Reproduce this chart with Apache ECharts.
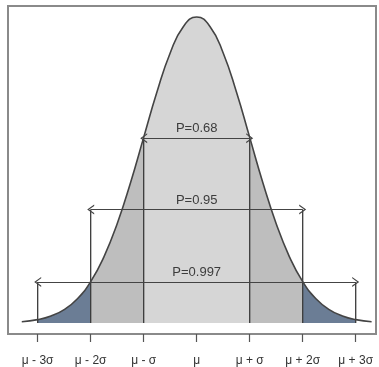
<!DOCTYPE html>
<html><head><meta charset="utf-8">
<script src="https://cdn.jsdelivr.net/npm/echarts@6/dist/echarts.min.js"></script>
<style>html,body{margin:0;padding:0;background:#fff}#c{width:379px;height:367px}</style>
</head><body><div id="c"></div>
<script>
// x position in units of sigma from the mean
const sigmaX = [-3.3,-3.0,-2.75,-2.5,-2.25,-2.0,-1.75,-1.5,-1.25,-1.0,-0.75,-0.5,-0.25,0,0.25,0.5,0.75,1.0,1.25,1.5,1.75,2.0,2.25,2.5,2.75,3.0,3.3];
// curve height
const density = [0.0017,0.0044,0.0091,0.0175,0.0317,0.0540,0.0863,0.1295,0.1826,0.2420,0.3011,0.3521,0.3867,0.3989,0.3867,0.3521,0.3011,0.2420,0.1826,0.1295,0.0863,0.0540,0.0317,0.0175,0.0091,0.0044,0.0017];
const tickValues = [-3,-2,-1,0,1,2,3];
const tickLabels = ['μ - 3σ','μ - 2σ','μ - σ','μ','μ + σ','μ + 2σ','μ + 3σ'];
const boundaryX = [-3,-2,-1,1,2,3];
const boundaryTop = [0.0535,0.148,0.241,0.241,0.148,0.0535];
const arrowLabels = ['P=0.68','P=0.95','P=0.997'];
const arrowHalf = [1,2,3];
const arrowLevel = [0.241,0.148,0.0535];

const curve = sigmaX.map((x,i)=>[x,density[i]]);
const chevron = 'path://M0,10 L5,0 L10,10 L8.6,10 L5,2.8 L1.4,10 Z';
const FONT = '"Liberation Sans", Arial, sans-serif';

const series = [];
series.push({
  type:'line', data:curve, smooth:true, showSymbol:false, silent:true,
  lineStyle:{width:0}, areaStyle:{opacity:1, origin:0}, z:1
});
boundaryX.forEach((x,i)=>{
  series.push({
    type:'line', data:[[x,0],[x,boundaryTop[i]]], showSymbol:false, silent:true,
    lineStyle:{color:'#3a3a3a', width:1.3}, z:2
  });
});
series.push({
  type:'line', data:curve, smooth:true, showSymbol:false, silent:true,
  lineStyle:{color:'#444', width:1.6}, z:3,
  markLine:{
    silent:true, animation:false,
    symbol:[chevron, chevron], symbolSize:[10,7],
    lineStyle:{color:'#444', width:1, type:'solid'},
    label:{show:true, position:'insideMiddleTop', formatter:'{b}', color:'#3c3c3c',
      fontSize:13, fontFamily:FONT, distance:3},
    data: arrowLabels.map((t,i)=>[
      {coord:[-arrowHalf[i], arrowLevel[i]], name:t},
      {coord:[arrowHalf[i], arrowLevel[i]]}
    ])
  }
});

const chart = echarts.init(document.getElementById('c'), null, {renderer:'canvas'});
chart.setOption({
  animation:false,
  backgroundColor:'#fff',
  grid:{left:8, right:3, top:6, bottom:33, show:true, borderColor:'#8a8a8a', borderWidth:2, backgroundColor:'#fff'},
  xAxis:{
    type:'value', min:-3.56, max:3.383,
    splitLine:{show:false},
    axisLine:{show:true, onZero:false, lineStyle:{color:'#8a8a8a', width:2}},
    axisTick:{show:true, customValues:tickValues, length:8, lineStyle:{color:'#555', width:1.2}},
    axisLabel:{show:true, customValues:tickValues, margin:21, color:'#333', fontSize:12, fontFamily:FONT,
      formatter:(v)=>tickLabels[tickValues.indexOf(Math.round(v))]}
  },
  yAxis:{type:'value', min:-0.01434, max:0.4133, show:false, splitLine:{show:false}},
  visualMap:{
    show:false, type:'piecewise', dimension:0, seriesIndex:0,
    pieces:[
      {lt:-3, color:'rgba(255,255,255,0)'},
      {gte:-3, lt:-2, color:'#6b7d95'},
      {gte:-2, lt:-1, color:'#bebebe'},
      {gte:-1, lte:1, color:'#d6d6d6'},
      {gt:1, lte:2, color:'#bebebe'},
      {gt:2, lte:3, color:'#6b7d95'},
      {gt:3, color:'rgba(255,255,255,0)'}
    ]
  },
  series:series
});
</script></body></html>
